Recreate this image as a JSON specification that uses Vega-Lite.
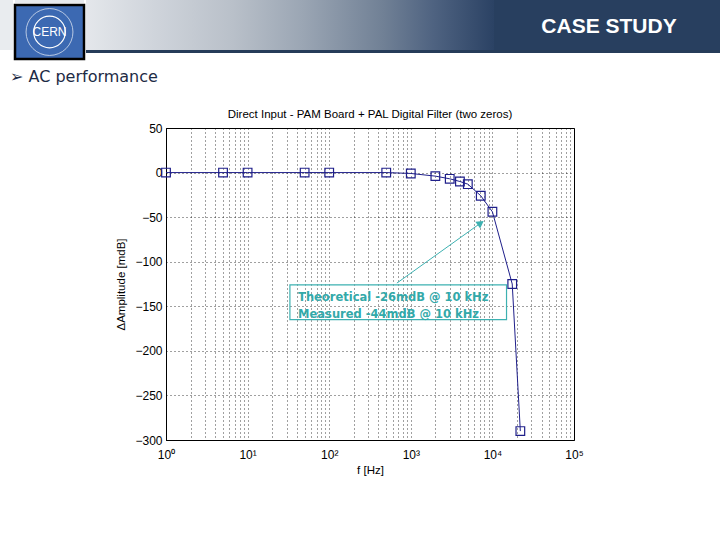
{
  "$schema": "https://vega.github.io/schema/vega-lite/v6.json",
  "padding": 0,
  "background": "white",
  "spacing": 8,
  "config": {
    "view": {"stroke": null},
    "font": "Liberation Sans",
    "axis": {
      "labelFont": "Liberation Sans",
      "labelFontSize": 12,
      "labelColor": "black",
      "titleFont": "Liberation Sans",
      "titleFontSize": 11.5,
      "titleFontWeight": "normal",
      "titleColor": "black",
      "domainColor": "black",
      "grid": true,
      "gridColor": "black",
      "gridDash": [1, 3],
      "gridOpacity": 0.75,
      "ticks": false
    }
  },
  "vconcat": [
    {
      "spacing": 0,
      "hconcat": [
        {
          "width": 13,
          "height": 50,
          "view": {"fill": "#e9ecef", "stroke": null},
          "data": {"values": []},
          "mark": "point",
          "encoding": {}
        },
        {
          "spacing": 0,
          "vconcat": [
            {
              "width": 69,
              "height": 3,
              "view": {"fill": "#e7eaee", "stroke": null},
              "data": {"values": []},
              "mark": "point",
              "encoding": {}
            },
            {
              "width": 69,
              "height": 54,
              "view": {"fill": "#3c69b2", "stroke": "#000000", "strokeWidth": 2.5},
              "data": {"values": [{"name": "CERN"}]},
              "layer": [
                {
                  "mark": {"type": "point", "shape": "circle", "size": 1000, "filled": false, "stroke": "white", "strokeWidth": 1.2, "opacity": 1},
                  "encoding": {}
                },
                {
                  "mark": {"type": "point", "shape": "circle", "size": 2200, "filled": false, "stroke": "white", "strokeWidth": 0.8, "opacity": 0.8},
                  "encoding": {}
                },
                {
                  "mark": {"type": "text", "color": "white", "fontSize": 12, "font": "Liberation Sans", "align": "center", "baseline": "middle"},
                  "encoding": {"text": {"field": "name"}}
                }
              ]
            }
          ]
        },
        {
          "spacing": 0,
          "vconcat": [
            {
              "spacing": 0,
              "hconcat": [
                {
                  "width": 408,
                  "height": 50,
                  "data": {"values": [{"part": "band"}]},
                  "mark": {
                    "type": "rect",
                    "fill": {
                      "gradient": "linear",
                      "x1": 0, "y1": 0, "x2": 1, "y2": 0,
                      "stops": [
                        {"offset": 0, "color": "#e4e7eb"},
                        {"offset": 0.17, "color": "#cfd4db"},
                        {"offset": 0.36, "color": "#b9c0c9"},
                        {"offset": 0.53, "color": "#9ba6b4"},
                        {"offset": 0.73, "color": "#708095"},
                        {"offset": 0.85, "color": "#4f6381"},
                        {"offset": 1, "color": "#2b4264"}
                      ]
                    }
                  },
                  "encoding": {}
                },
                {
                  "width": 230,
                  "height": 50,
                  "view": {"fill": "#283f5f", "stroke": null},
                  "data": {"values": [{"label": "CASE STUDY"}]},
                  "mark": {"type": "text", "color": "white", "fontSize": 21, "fontWeight": "bold", "font": "Liberation Sans", "align": "center", "baseline": "middle", "dy": 2},
                  "encoding": {"text": {"field": "label"}}
                }
              ]
            },
            {
              "width": 638,
              "height": 3,
              "view": {"fill": "#263c59", "stroke": null},
              "data": {"values": []},
              "mark": "point",
              "encoding": {}
            }
          ]
        }
      ]
    },
    {
      "title": {
        "text": "➢  AC performance",
        "anchor": "start",
        "frame": "group",
        "fontSize": 16,
        "font": "DejaVu Sans",
        "fontWeight": "normal",
        "color": "#1d2b45",
        "dx": 10,
        "offset": 23
      },
      "spacing": 0,
      "hconcat": [
        {
          "width": 115,
          "height": 10,
          "data": {"values": []},
          "mark": "point",
          "encoding": {}
        },
        {
          "width": 408,
          "height": 312,
          "view": {"stroke": "black", "strokeWidth": 1},
          "title": {
            "text": "Direct Input - PAM Board + PAL Digital Filter (two zeros)",
            "fontSize": 11.5,
            "fontWeight": "normal",
            "font": "Liberation Sans",
            "color": "black",
            "offset": 2
          },
          "layer": [
            {
              "data": {
                "values": [
                  {"f": 1, "amp": 0},
                  {"f": 5, "amp": 0},
                  {"f": 10, "amp": 0},
                  {"f": 50, "amp": 0},
                  {"f": 100, "amp": 0},
                  {"f": 500, "amp": 0},
                  {"f": 1000, "amp": -1},
                  {"f": 2000, "amp": -4},
                  {"f": 3000, "amp": -7},
                  {"f": 4000, "amp": -10},
                  {"f": 5000, "amp": -13},
                  {"f": 7200, "amp": -26},
                  {"f": 10000, "amp": -44},
                  {"f": 17500, "amp": -125},
                  {"f": 22000, "amp": -290}
                ]
              },
              "mark": {
                "type": "line",
                "color": "#1f1f8a",
                "strokeWidth": 1,
                "point": {"shape": "square", "filled": false, "size": 75, "stroke": "#1f1f8a", "strokeWidth": 1.2, "fill": null}
              },
              "encoding": {
                "x": {
                  "field": "f",
                  "type": "quantitative",
                  "scale": {"type": "log", "domain": [1, 100000], "nice": false},
                  "axis": {
                    "title": "f [Hz]",
                    "values": [1,2,3,4,5,6,7,8,9,10,20,30,40,50,60,70,80,90,100,200,300,400,500,600,700,800,900,1000,2000,3000,4000,5000,6000,7000,8000,9000,10000,20000,30000,40000,50000,60000,70000,80000,90000,100000],
                    "labelExpr": "datum.value == 1 ? '10⁰' : datum.value == 10 ? '10¹' : datum.value == 100 ? '10²' : datum.value == 1000 ? '10³' : datum.value == 10000 ? '10⁴' : datum.value == 100000 ? '10⁵' : ''",
                    "labelOverlap": false,
                    "labelFlush": false,
                    "labelPadding": 9,
                    "titlePadding": 4
                  }
                },
                "y": {
                  "field": "amp",
                  "type": "quantitative",
                  "scale": {"domain": [-300, 50], "nice": false},
                  "axis": {
                    "title": "ΔAmplitude [mdB]",
                    "values": [-300, -250, -200, -150, -100, -50, 0, 50],
                    "labelPadding": 4,
                    "titlePadding": 8
                  }
                }
              }
            },
            {
              "data": {"values": [{"f0": 33, "f1": 14900, "a0": -126, "a1": -165}]},
              "mark": {"type": "rect", "fill": null, "fillOpacity": 0, "stroke": "#3db1b1", "strokeWidth": 1.2},
              "encoding": {
                "x": {"field": "f0", "type": "quantitative"},
                "x2": {"field": "f1"},
                "y": {"field": "a0", "type": "quantitative"},
                "y2": {"field": "a1"}
              }
            },
            {
              "data": {
                "values": [
                  {"f": 41.5, "amp": -140.8, "label": "Theoretical -26mdB @ 10 kHz"},
                  {"f": 41.5, "amp": -159.9, "label": "Measured  -44mdB @ 10 kHz"}
                ]
              },
              "mark": {"type": "text", "align": "left", "baseline": "middle", "fontSize": 11.5, "fontWeight": "bold", "font": "DejaVu Sans", "color": "#33a9a9"},
              "encoding": {
                "x": {"field": "f", "type": "quantitative"},
                "y": {"field": "amp", "type": "quantitative"},
                "text": {"field": "label"}
              }
            },
            {
              "data": {"values": [{"f0": 675, "f1": 7190, "a0": -124, "a1": -56.6}]},
              "mark": {"type": "rule", "color": "#3db1b1", "strokeWidth": 1},
              "encoding": {
                "x": {"field": "f0", "type": "quantitative"},
                "x2": {"field": "f1"},
                "y": {"field": "a0", "type": "quantitative"},
                "y2": {"field": "a1"}
              }
            },
            {
              "data": {"values": [{"f": 7190, "amp": -56.6}]},
              "mark": {"type": "point", "shape": "triangle-up", "filled": true, "size": 70, "color": "#3db1b1", "opacity": 1, "angle": 55},
              "encoding": {
                "x": {"field": "f", "type": "quantitative"},
                "y": {"field": "amp", "type": "quantitative"}
              }
            }
          ]
        }
      ]
    }
  ]
}
